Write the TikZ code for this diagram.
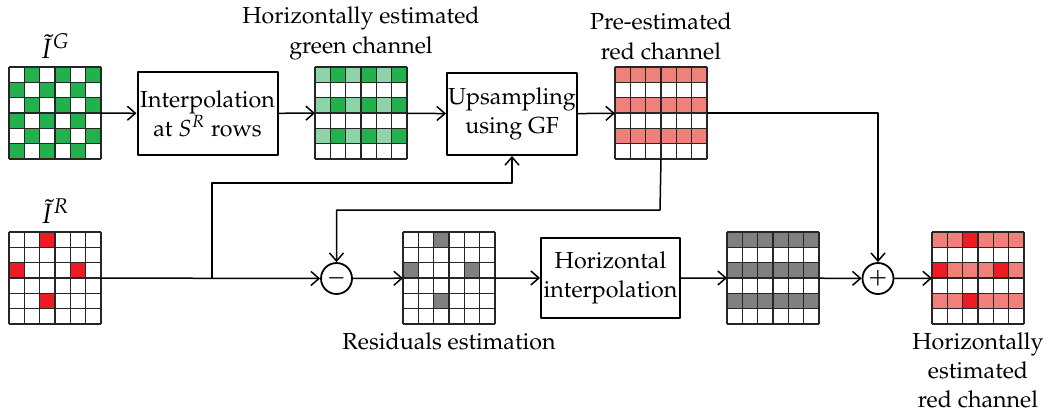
\documentclass[tikz,border=0pt]{standalone}
\usepackage[T1]{fontenc}
\usepackage{mathpazo}
\usetikzlibrary{positioning,arrows.meta}

\definecolor{gdark}{RGB}{34,177,76}
\definecolor{glight}{RGB}{143,212,169}
\definecolor{salmon}{RGB}{240,128,122}
\definecolor{rdot}{RGB}{237,28,36}
\definecolor{resgray}{RGB}{128,128,128}

\newcommand{\cellsz}{15.33}
\newcommand{\pixcell}[3]{\fill[#3] ({(#1)*\cellsz},{(#2)*\cellsz}) rectangle ++(\cellsz,\cellsz);}
\newcommand{\pixgrid}[3]{%
  \begin{scope}[shift={(#2)}]
    #3
    \foreach \i in {0,...,6}{
      \draw[gridline] (\i*\cellsz,0) -- (\i*\cellsz,6*\cellsz);
      \draw[gridline] (0,\i*\cellsz) -- (6*\cellsz,\i*\cellsz);
    }
    \node[gridbox] (#1) at (3*\cellsz,3*\cellsz) {};
  \end{scope}}

\tikzset{
  gridline/.style={black!85, line width=0.65pt},
  gridbox/.style={rectangle, minimum size=46pt, inner sep=0pt, outer sep=0pt},
  block/.style={draw, line width=1pt, align=center, inner sep=0pt},
  opnode/.style={draw, circle, line width=0.9pt, minimum size=15.5pt, inner sep=0pt, font=\boldmath},
  lbl/.style={align=center, inner sep=1pt},
  imglbl/.style={inner sep=1pt, font=\fontsize{14}{16}\selectfont},
  conn/.style={line width=0.75pt, ->},
}

\begin{document}
\begin{tikzpicture}[x=0.5pt, y=-0.5pt, font=\fontsize{11.6}{14.6}\selectfont,
  line join=round, >={Straight Barb[length=4pt,width=7pt]}]
\useasboundingbox (0,0) rectangle (1053,414);

% input green samples
\pixgrid{gridG}{9,67}{\foreach \r in {0,2,4} \foreach \c in {1,3,5} {\pixcell{\c}{\r}{gdark} \pixcell{\c-1}{\r+1}{gdark}}}
% horizontally estimated green
\pixgrid{gridGh}{315,67}{\foreach \r in {0,2,4} \foreach \c in {0,2,4} {\pixcell{\c}{\r}{glight} \pixcell{\c+1}{\r}{gdark}}}
% pre-estimated red
\pixgrid{gridRp}{615,67}{\foreach \r in {0,2,4} \foreach \c in {0,...,5} {\pixcell{\c}{\r}{salmon}}}
% input red samples
\pixgrid{gridR}{9,232}{\foreach \c/\r in {2/0,0/2,4/2,2/4} {\pixcell{\c}{\r}{rdot}}}
% residuals
\pixgrid{gridRes}{403,232}{\foreach \c/\r in {2/0,0/2,4/2,2/4} {\pixcell{\c}{\r}{resgray}}}
% interpolated residuals
\pixgrid{gridRh}{727,232}{\foreach \r in {0,2,4} \foreach \c in {0,...,5} {\pixcell{\c}{\r}{resgray}}}
% output
\pixgrid{gridOut}{932,232}{\foreach \r in {0,2,4} \foreach \c in {0,...,5} {\pixcell{\c}{\r}{salmon}}
  \foreach \c/\r in {2/0,0/2,4/2,2/4} {\pixcell{\c}{\r}{rdot}}}

% blocks
\node[block, minimum width=70pt, minimum height=41.5pt] (interp) at (207.5,113.5) {Interpolation\\at $S^R$ rows};
\node[block, minimum width=65pt, minimum height=41pt] (upsamp) at (512,114) {Upsampling\\using GF};
\node[block, minimum width=69.5pt, minimum height=40pt] (hinterp) at (610.5,278) {Horizontal\\interpolation};
\node[opnode] (minus) at (336.5,278.5) {$-$};
\node[opnode] (plus) at (878,278.5) {$+$};

% labels
\node[imglbl, above=3pt of gridG] {$\tilde{I}^G$};
\node[imglbl, above=3pt of gridR] {$\tilde{I}^R$};
\node[lbl, above=2.5pt of gridGh] {Horizontally estimated\\green channel};
\node[lbl, above=2.5pt of gridRp] {Pre-estimated\\red channel};
\node[lbl, below=3pt of gridRes] {Residuals estimation};
\node[lbl, below=3pt of gridOut] {Horizontally\\estimated\\red channel};

% connectors
\coordinate (split) at (212,278);
\coordinate (upturn) at (212,183);
\coordinate (tapR) at (660,210);
\draw[conn] (gridG) -- (interp);
\draw[conn] (interp) -- (gridGh);
\draw[conn] (gridGh) -- (upsamp);
\draw[conn] (upsamp) -- (gridRp);
\draw[conn] (gridRp.east) -| (plus.north);
\draw[conn] (gridRp.south) -- (tapR) -| (minus.north);
\draw[conn] (gridR) -- (minus);
\draw[conn] (split) -- (upturn) -| (upsamp.south);
\draw[conn] (minus) -- (gridRes);
\draw[conn] (gridRes) -- (hinterp);
\draw[conn] (hinterp) -- (gridRh);
\draw[conn] (gridRh) -- (plus);
\draw[conn] (plus) -- (gridOut);
\end{tikzpicture}
\end{document}
